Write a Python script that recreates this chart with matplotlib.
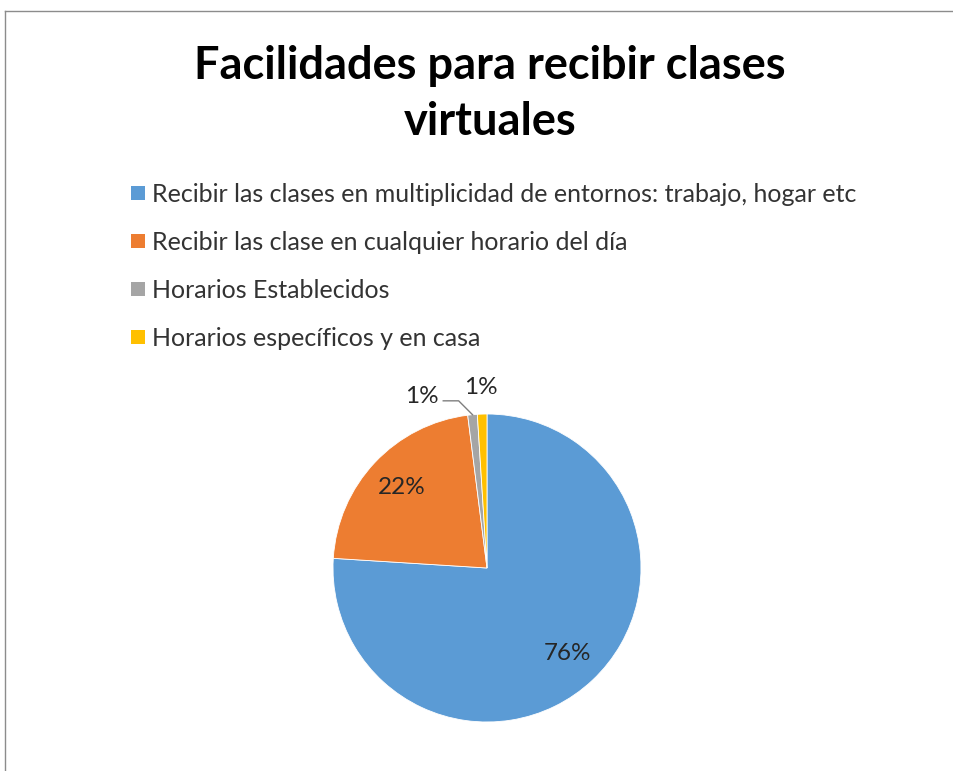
import numpy as np
import matplotlib.pyplot as plt
from matplotlib.patches import Rectangle
from matplotlib.lines import Line2D

# Datos
categorias = [
    'Recibir las clases en multiplicidad de entornos: trabajo, hogar etc',
    'Recibir las clase en cualquier horario del día',
    'Horarios Establecidos',
    'Horarios específicos y en casa',
]
porcentajes = [76, 22, 1, 1]
colores = ['#5B9BD5', '#ED7D31', '#A5A5A5', '#FFC000']
titulo = 'Facilidades para recibir clases\nvirtuales'

plt.rcParams['font.family'] = ['Lato', 'DejaVu Sans']

W, H = 954, 771
fig = plt.figure(figsize=(W / 100, H / 100), dpi=100)


def fx(px):
    return px / W


def fy(py):
    return 1 - py / H


# Borde del gráfico (izquierda y arriba)
fig.add_artist(Line2D([fx(5), fx(5)], [0, fy(11)], transform=fig.transFigure,
                      color='#8c8c8c', lw=1))
fig.add_artist(Line2D([fx(5), 1], [fy(11), fy(11)], transform=fig.transFigure,
                      color='#8c8c8c', lw=1))

# Título
fig.text(fx(490), fy(45), titulo, ha='center', va='top', fontsize=32.5,
         fontweight='bold', color='#000000', linespacing=1.42)

# Leyenda manual
for i, (cat, col) in enumerate(zip(categorias, colores)):
    yc = 193 + i * 48
    fig.add_artist(Rectangle((fx(131), fy(yc + 7)), 14 / W, 14 / H,
                             transform=fig.transFigure, facecolor=col,
                             edgecolor='none'))
    fig.text(fx(152), fy(yc), cat, ha='left', va='center_baseline',
             fontsize=18, color='#333333')

# Pastel
cx, cy, r = 487, 568, 154
ax = fig.add_axes([fx(cx - r), fy(cy + r), 2 * r / W, 2 * r / H])
wedges, _ = ax.pie(porcentajes, colors=colores, startangle=90, counterclock=False,
                   wedgeprops=dict(edgecolor='white', linewidth=0.6))
ax.set_xlim(-1, 1)
ax.set_ylim(-1, 1)
ax.axis('off')

for i, (w, p) in enumerate(zip(wedges, porcentajes)):
    ang = np.deg2rad((w.theta1 + w.theta2) / 2)
    ux, uy = np.cos(ang), np.sin(ang)
    txt = f'{p}%'
    if i < 2:
        ax.text(0.76 * ux, 0.76 * uy, txt, ha='center', va='center',
                fontsize=17.5, color='#262626')
    elif i == 3:
        ax.text(1.17 * ux, 1.17 * uy, txt, ha='center', va='center',
                fontsize=17.5, color='#262626', clip_on=False)
    else:
        ex, ey = ux * 1.0, uy * 1.0
        xs = [ex, ex - 0.09, ex - 0.19]
        ys = [ey, ey + 0.09, ey + 0.09]
        ax.plot(xs, ys, color='#7f7f7f', lw=1, clip_on=False)
        ax.text(xs[-1] - 0.03, ys[-1] + 0.03, txt, ha='right', va='center',
                fontsize=17.5, color='#262626', clip_on=False)

fig.savefig('out.png', dpi=100)
